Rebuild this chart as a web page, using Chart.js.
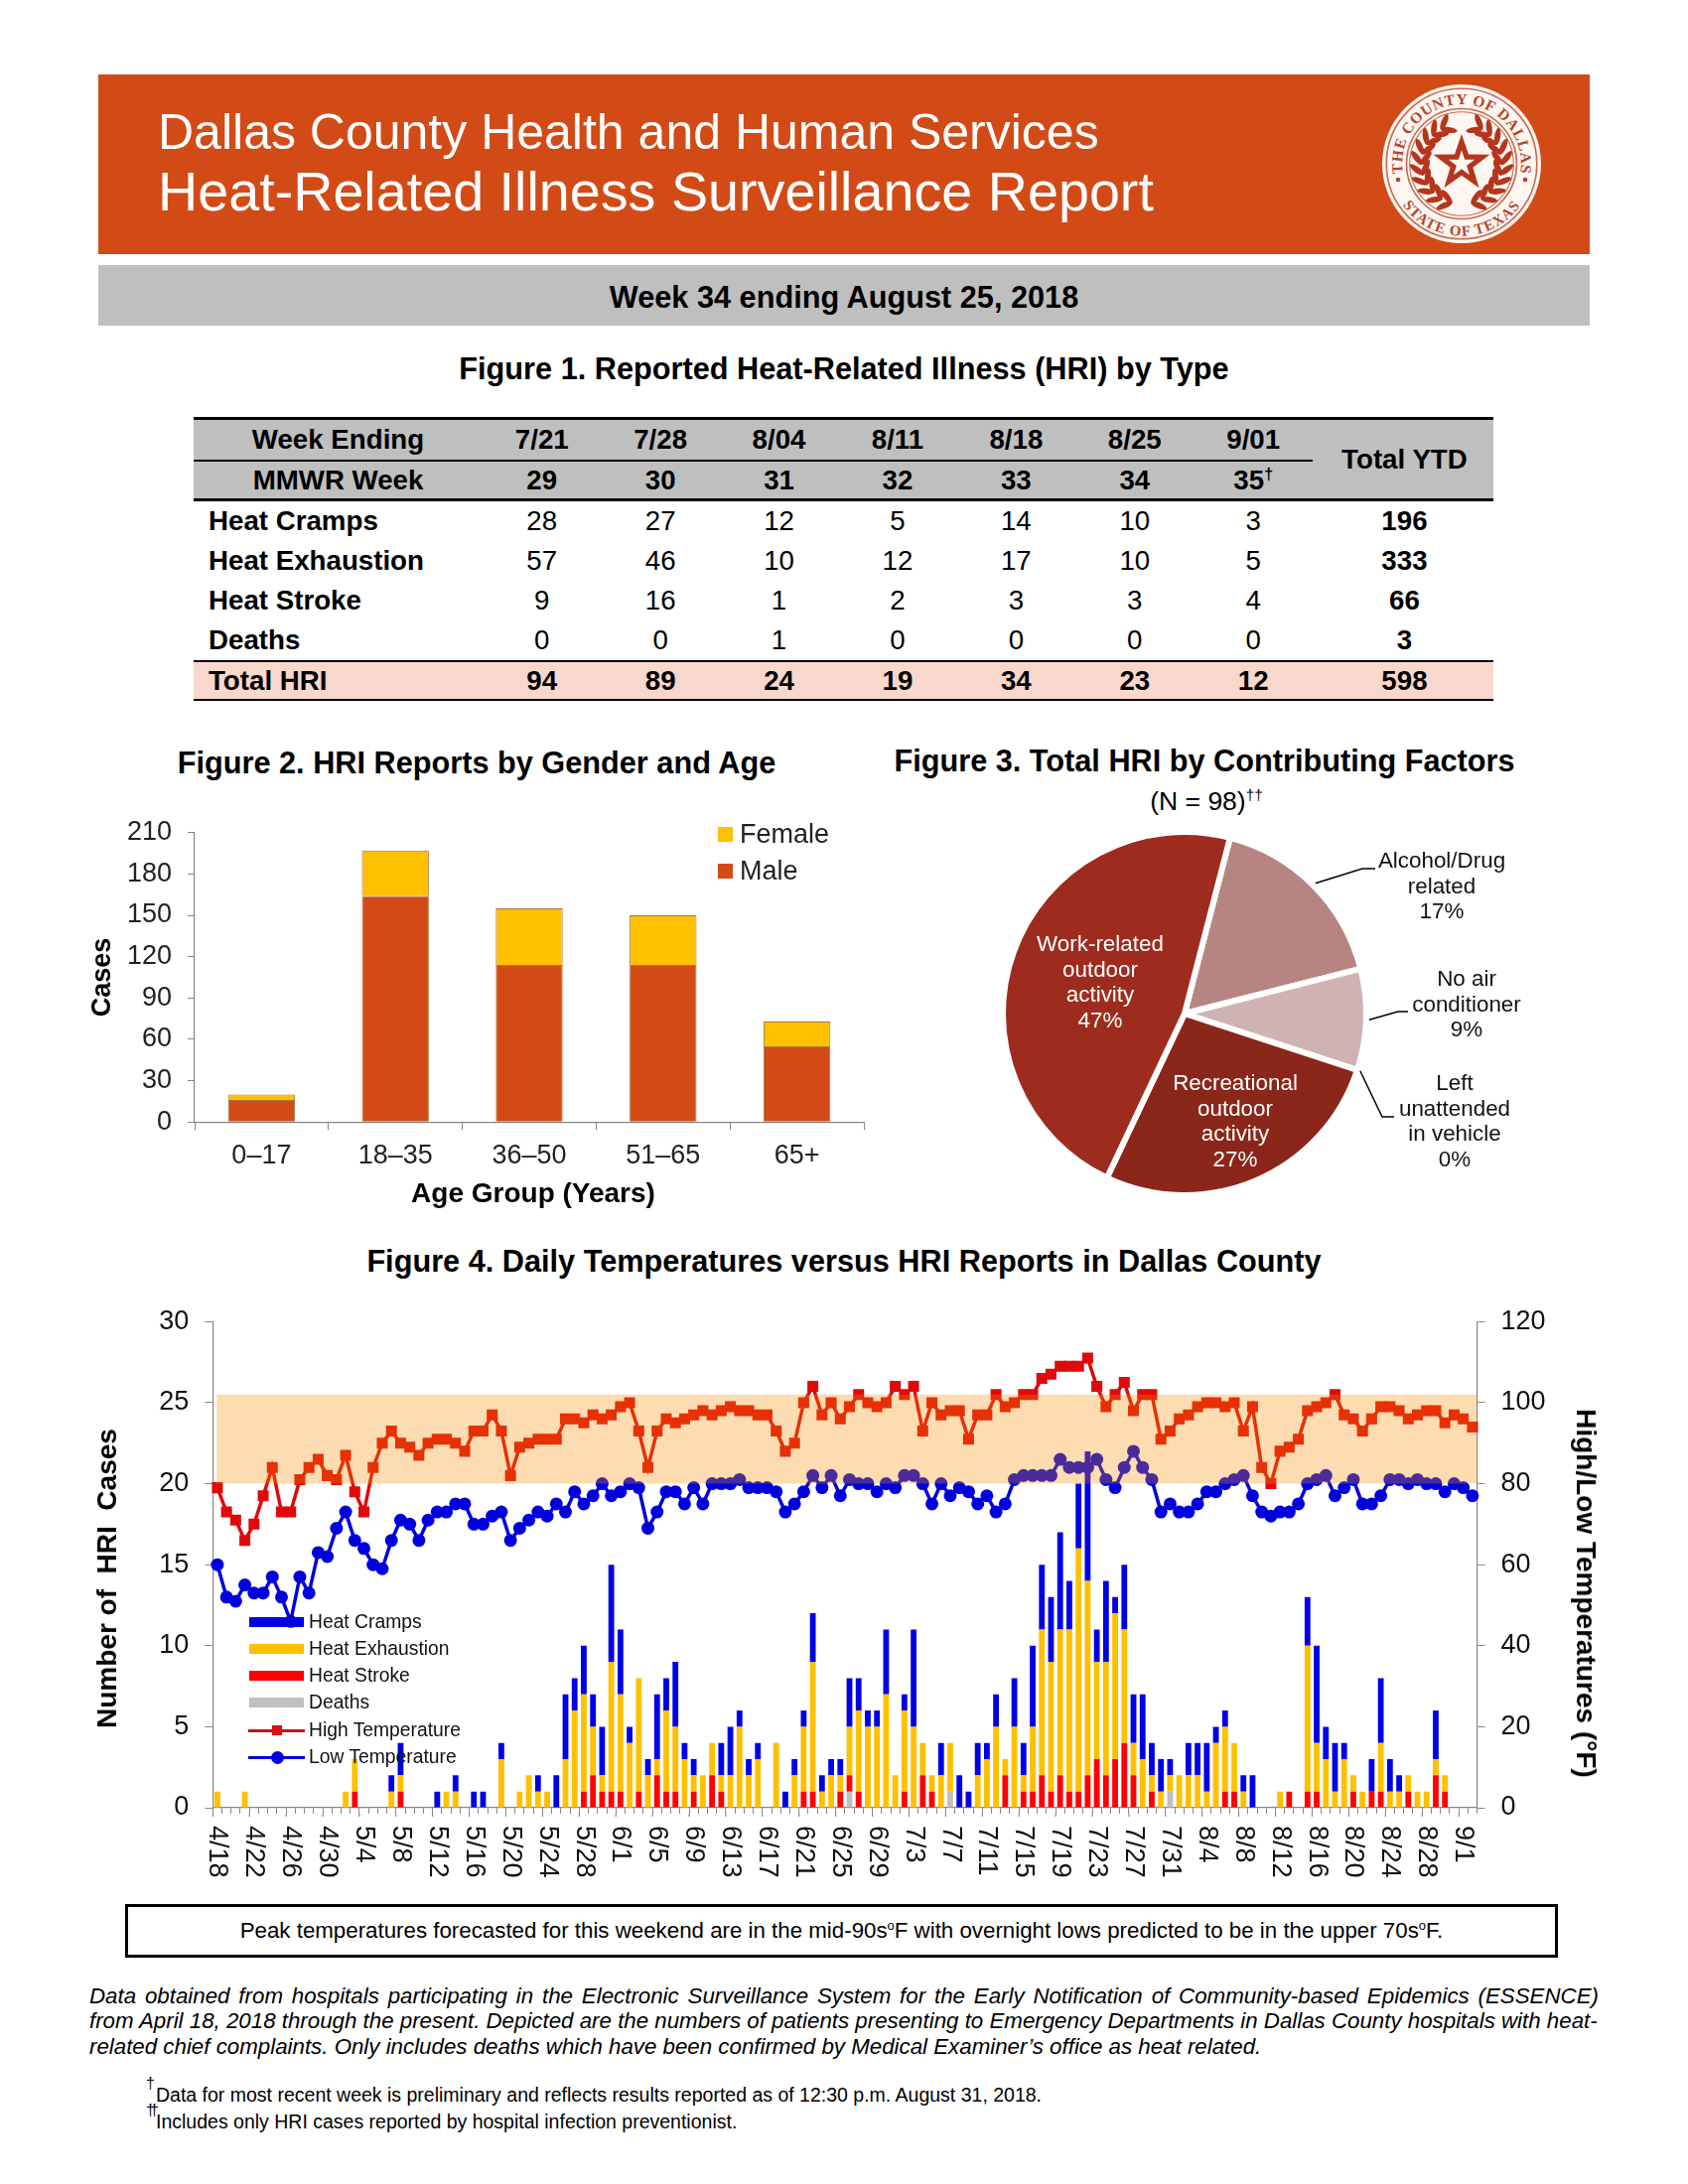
<!DOCTYPE html>
<html>
<head>
<meta charset="utf-8">
<title>Heat-Related Illness Surveillance Report</title>
<script src="https://cdn.jsdelivr.net/npm/chart.js@4/dist/chart.umd.min.js"></script>
<style>
  html, body { margin: 0; padding: 0; background: #fff; }
  body { position: relative; width: 1700px; height: 2200px; overflow: hidden; font-family: "Liberation Sans", Arial, sans-serif; color: #000; }
  .abs { position: absolute; white-space: nowrap; }
  .mid { position: absolute; white-space: nowrap; transform: translate(-50%, -50%); }
  .figtitle { font-weight: bold; font-size: 30.7px; }
  .axtitle { font-weight: bold; font-size: 28px; }
  canvas { position: absolute; }
  #banner { position: absolute; left: 99px; top: 75px; width: 1502px; height: 181px; background: #d24b17; }
  #weekbar { position: absolute; left: 99px; top: 267px; width: 1502px; height: 61px; background: #bfbfbf; }
  #hriTable { position: absolute; left: 195px; top: 420px; width: 1309px; border-collapse: collapse; table-layout: fixed; font-size: 27.7px; }
  #hriTable td { text-align: center; padding: 0; height: 40px; line-height: 28px; }
  #hriTable .name { text-align: left; padding-left: 15px; font-weight: bold; }
  #hriTable .hdr { background: #bfbfbf; font-weight: bold; }
  #hriTable .hdr.name { text-align: center; padding-left: 0; }
  #hriTable .b { font-weight: bold; padding-left: 3px; }
  #hriTable .totalrow td { background: #f8d7cc; font-weight: bold; border-top: 2.5px solid #000; border-bottom: 2.5px solid #000; height: 37px; }
  sup { font-size: 58%; line-height: 0; }
  #notebox { position: absolute; left: 126px; top: 1918px; width: 1437px; height: 48px; border: 3px solid #000; text-align: center; font-size: 22.3px; line-height: 48px; }
  .note { font-size: 22.3px; font-style: italic; line-height: 25px; left: 90px; }
  .foot { font-size: 19.5px; line-height: 24px; left: 157px; }
</style>
</head>
<body>

<div id="banner"></div>
<div class="abs" style="left:159px;top:104px;font-size:50px;line-height:58px;color:#fff">Dallas County Health and Human Services</div>
<div class="abs" style="left:159px;top:162px;font-size:55.7px;line-height:62px;color:#fff">Heat-Related Illness Surveillance Report</div>

<svg class="abs" style="left:1387px;top:80px" width="170" height="170" viewBox="-85 -85 170 170">
  <defs>
    <path id="arcTop" d="M -54 14.5 A 56 56 0 1 1 54 14.5"></path>
    <path id="arcBottom" d="M -58 35.5 A 68 68 0 0 0 58 35.5"></path>
  </defs>
  <g transform="scale(1.067)">
    <circle r="75" fill="#fdf6f1"></circle>
    <circle r="71" fill="none" stroke="#c9694f" stroke-width="1.5"></circle>
    <circle r="52" fill="none" stroke="#c9694f" stroke-width="1.5"></circle>
    <circle r="49" fill="none" stroke="#c9694f" stroke-width="1"></circle>
    <text font-family="Liberation Serif, serif" font-weight="bold" font-size="14.5" fill="#b5452c" letter-spacing="0.6">
      <textPath href="#arcTop" startOffset="50%" text-anchor="middle">THE COUNTY OF DALLAS</textPath>
    </text>
    <text font-family="Liberation Serif, serif" font-weight="bold" font-size="14" fill="#b5452c" letter-spacing="1">
      <textPath href="#arcBottom" startOffset="50%" text-anchor="middle">STATE OF TEXAS</textPath>
    </text>
    <circle cx="-60" cy="15" r="2.2" fill="#b5452c"></circle>
    <circle cx="60" cy="15" r="2.2" fill="#b5452c"></circle>
    <polygon fill="#b5351d" points="0,-28 6.6,-9 26.6,-8.7 10.7,3.5 16.5,22.7 0,11 -16.5,22.7 -10.7,3.5 -26.6,-8.7 -6.6,-9"></polygon>
    <polygon fill="#fdf6f1" points="0,-13 3,-4 12.4,-4 4.8,1.6 7.6,10.6 0,5 -7.6,10.6 -4.8,1.6 -12.4,-4 -3,-4"></polygon>
    <g id="wreath"></g>
  </g>
</svg>

<div id="weekbar"></div>
<div class="mid" style="left:850px;top:300px;font-weight:bold;font-size:30.7px">Week 34 ending August 25, 2018</div>
<div class="mid figtitle" style="left:850px;top:372px">Figure 1. Reported Heat-Related Illness (HRI) by Type</div>

<table id="hriTable"></table>

<div class="mid figtitle" style="left:480px;top:769px">Figure 2. HRI Reports by Gender and Age</div>
<canvas id="genderChart" width="820" height="380" style="left:80px;top:820px"></canvas>
<div class="mid axtitle" style="left:537px;top:1202px">Age Group (Years)</div>
<div id="genderLegend"></div>

<div class="mid figtitle" style="left:1213px;top:767px">Figure 3. Total HRI by Contributing Factors</div>
<div class="mid" style="left:1215px;top:807px;font-size:26.5px">(N = 98)<sup>††</sup></div>
<canvas id="factorChart" width="600" height="382" style="left:1000px;top:830px"></canvas>

<div class="mid figtitle" style="left:850px;top:1271px">Figure 4. Daily Temperatures versus HRI Reports in Dallas County</div>
<canvas id="dailyChart" width="1513" height="590" style="left:88px;top:1310px"></canvas>
<div class="mid axtitle" style="left:108px;top:1590px;transform:translate(-50%,-50%) rotate(-90deg)">Number of&nbsp; HRI&nbsp; Cases</div>
<div class="mid axtitle" style="left:1597px;top:1605px;transform:translate(-50%,-50%) rotate(90deg)">High/Low Temperatures (°F)</div>
<div id="dailyLegend"></div>

<div id="notebox">Peak temperatures forecasted for this weekend are in the mid-90s<sup>o</sup>F with overnight lows predicted to be in the upper 70s<sup>o</sup>F.</div>

<div class="abs note" style="top:1998px;width:1520px;text-align:justify;text-align-last:justify;white-space:normal">Data obtained from hospitals participating in the Electronic Surveillance System for the Early Notification of Community-based Epidemics (ESSENCE)</div>
<div class="abs note" style="top:2023px">from April 18, 2018 through the present. Depicted are the numbers of patients presenting to Emergency Departments in Dallas County hospitals with heat-</div>
<div class="abs note" style="top:2049px">related chief complaints. Only includes deaths which have been confirmed by Medical Examiner’s office as heat related.</div>

<div class="abs" style="left:147px;top:2090px;font-size:16px;line-height:18px">†</div>
<div class="abs foot" style="top:2098px">Data for most recent week is preliminary and reflects results reported as of 12:30 p.m. August 31, 2018.</div>
<div class="abs" style="left:147px;top:2117px;font-size:16px;line-height:18px;letter-spacing:-5px">††</div>
<div class="abs foot" style="top:2125px">Includes only HRI cases reported by hospital infection preventionist.</div>

<script>
// Figure 1 table
const weekEnding = ["7/21", "7/28", "8/04", "8/11", "8/18", "8/25", "9/01"];
const mmwrWeek = ["29", "30", "31", "32", "33", "34", "35"];
const cramps = [28, 27, 12, 5, 14, 10, 3];
const exhaustion = [57, 46, 10, 12, 17, 10, 5];
const stroke = [9, 16, 1, 2, 3, 3, 4];
const deaths = [0, 0, 1, 0, 0, 0, 0];
const totalHri = [94, 89, 24, 19, 34, 23, 12];
const totalYtd = { cramps: 196, exhaustion: 333, stroke: 66, deaths: 3, total: 598 };

// Figure 2 bars
const ageGroups = ["0–17", "18–35", "36–50", "51–65", "65+"];
const maleCases = [16, 164, 114, 114, 55];
const femaleCases = [4, 33, 41, 36, 18];

// Figure 3 pie
const factorNames = [["Alcohol/Drug", "related"], ["No air", "conditioner"], ["Left", "unattended", "in vehicle"], ["Recreational", "outdoor", "activity"], ["Work-related", "outdoor", "activity"]];
const factorPercent = [17, 9, 0, 27, 47];

// Figure 4, one entry per day from 4/18 to 9/2
const days = [
  "4/18","4/19","4/20","4/21","4/22","4/23","4/24","4/25","4/26","4/27","4/28","4/29","4/30",
  "5/1","5/2","5/3","5/4","5/5","5/6","5/7","5/8","5/9","5/10","5/11","5/12","5/13","5/14","5/15","5/16","5/17","5/18","5/19","5/20","5/21","5/22","5/23","5/24","5/25","5/26","5/27","5/28","5/29","5/30","5/31",
  "6/1","6/2","6/3","6/4","6/5","6/6","6/7","6/8","6/9","6/10","6/11","6/12","6/13","6/14","6/15","6/16","6/17","6/18","6/19","6/20","6/21","6/22","6/23","6/24","6/25","6/26","6/27","6/28","6/29","6/30",
  "7/1","7/2","7/3","7/4","7/5","7/6","7/7","7/8","7/9","7/10","7/11","7/12","7/13","7/14","7/15","7/16","7/17","7/18","7/19","7/20","7/21","7/22","7/23","7/24","7/25","7/26","7/27","7/28","7/29","7/30","7/31",
  "8/1","8/2","8/3","8/4","8/5","8/6","8/7","8/8","8/9","8/10","8/11","8/12","8/13","8/14","8/15","8/16","8/17","8/18","8/19","8/20","8/21","8/22","8/23","8/24","8/25","8/26","8/27","8/28","8/29","8/30","8/31",
  "9/1","9/2"
];
const dailyCramps = [
  0,0,0,0,0,0,0,0,0,0, 0,0,0,0,0,0,0,0,0,1, 2,0,0,0,1,0,1,0,1,1, 0,1,0,0,0,1,0,2,4,2,
  3,2,3,6,4,1,0,1,4,2, 4,1,1,0,0,2,3,1,1,1, 0,0,1,1,1,3,1,1,1,3, 2,1,1,4,0,1,6,0,0,2,
  0,2,1,2,1,2,0,3,2,5, 4,4,6,3,4,8,2,5,1,4, 3,4,2,2,1,0,2,2,3,1, 1,0,1,2,0,0,0,0,0,3,
  6,2,3,1,0,0,2,4,2,1, 0,0,0,3,0,0,0,0
];
const dailyExhaustion = [
  1,0,0,1,0,0,0,0,0,0, 0,0,0,0,1,2,0,0,0,1, 1,0,0,0,0,1,1,0,0,0, 0,3,0,1,2,1,1,0,3,6,
  6,3,1,8,6,4,7,2,1,5, 4,3,1,2,2,1,2,5,2,3, 0,4,0,2,4,8,1,2,1,3, 5,5,5,7,2,5,5,2,1,2,
  3,0,0,2,3,5,1,5,1,4, 9,8,9,10,15,12,6,7,9,7, 2,3,1,1,1,2,2,2,1,4, 4,3,1,0,0,0,1,0,0,9,
  3,3,1,3,1,1,0,3,1,1, 1,1,1,1,1,0,0,0
];
const dailyStroke = [
  0,0,0,0,0,0,0,0,0,0, 0,0,0,0,0,1,0,0,0,0, 1,0,0,0,0,0,0,0,0,0, 0,0,0,0,0,0,0,0,0,0,
  1,2,1,1,1,0,1,0,2,1, 1,0,1,0,2,1,0,0,0,0, 0,0,0,0,1,1,0,0,1,1, 1,0,0,0,0,1,0,2,1,0,
  0,0,0,0,0,0,2,0,1,1, 2,1,2,1,1,2,3,2,3,4, 2,0,1,0,0,0,0,0,0,0, 1,1,0,0,0,0,0,1,0,1,
  1,0,0,0,1,0,1,1,0,0, 1,0,0,2,1,0,0,0
];
const dailyDeaths = [
  0,0,0,0,0,0,0,0,0,0, 0,0,0,0,0,0,0,0,0,0, 0,0,0,0,0,0,0,0,0,0, 0,0,0,0,0,0,0,0,0,0,
  0,0,0,0,0,0,0,0,0,0, 0,0,0,0,0,0,0,0,0,0, 0,0,0,0,0,0,0,0,0,1, 0,0,0,0,0,0,0,0,0,0,
  1,0,0,0,0,0,0,0,0,0, 0,0,0,0,0,0,0,0,0,0, 0,0,0,0,1,0,0,0,0,0, 0,0,0,0,0,0,0,0,0,0,
  0,0,0,0,0,0,0,0,0,0, 0,0,0,0,0,0,0,0
];
const highTemp = [
  79,73,71,66,70,77,84,73,73,81, 84,86,82,81,87,78,73,84,90,93, 90,89,87,90,91,91,90,88,93,93, 97,93,82,89,90,91,91,91,96,96,
  95,97,96,97,99,100,93,84,93,96, 95,96,97,98,97,98,99,98,98,97, 97,93,88,90,100,104,97,100,96,99, 102,100,99,100,104,102,104,93,100,97,
  98,98,91,97,97,102,99,100,102,102, 106,107,109,109,109,111,104,99,102,105, 98,102,102,91,93,96,97,99,100,100, 99,100,93,99,84,80,88,89,91,98,
  99,100,102,97,96,93,96,99,99,98, 96,97,98,98,95,97,96,94
];
const lowTemp = [
  60,52,51,55,53,53,57,52,46,57, 53,63,62,69,73,66,64,60,59,66, 71,70,66,71,73,73,75,75,70,70, 72,73,66,69,71,73,72,75,73,78,
  75,77,80,77,78,80,79,69,73,78, 78,75,79,75,80,80,80,81,79,79, 79,78,73,75,78,82,79,82,77,81, 80,80,78,80,79,82,82,80,75,80,
  77,79,78,75,77,73,75,81,82,82, 82,82,86,84,84,84,86,81,79,84, 88,84,81,73,75,73,73,75,78,78, 80,81,82,77,73,72,73,73,75,80,
  81,82,77,79,81,75,75,77,81,81, 80,81,80,80,78,80,79,77
];
const bandLow = 80;
const bandHigh = 102;

Chart.defaults.font.family = '"Liberation Sans", Arial, sans-serif';
Chart.defaults.color = "#111";
Chart.defaults.animation = false;
Chart.defaults.responsive = false;
Chart.defaults.devicePixelRatio = 1;

const AXIS_GRAY = "#868686";

// Pin an axis to a fixed thickness so the plot area lands where the page wants it
function pinAxis(prop, size) {
  return s => {
    s[prop] = size;
    s.paddingTop = s.paddingBottom = s.paddingLeft = s.paddingRight = 0;
  };
}

function buildTable() {
  const cells = (arr, cls) => arr.map(v => `<td class="${cls || ""}">${v}</td>`).join("");
  const row = (name, arr, ytd) => `<tr><td class="name">${name}</td>${cells(arr)}<td class="b">${ytd}</td></tr>`;
  const mmwr = mmwrWeek.map((v, i) => i === 6 ? v + "<sup>†</sup>" : v);
  document.getElementById("hriTable").innerHTML = `
    <colgroup><col style="width:291px">${weekEnding.map(() => '<col style="width:119.4px">').join("")}<col style="width:182px"></colgroup>
    <tr style="border-top:3px solid #000"><td class="name hdr" style="height:40px">Week Ending</td>${weekEnding.map(v => `<td class="hdr" style="height:40px;border-bottom:2.5px solid #000">${v}</td>`).join("")}<td class="hdr b" rowspan="2">Total YTD</td></tr>
    <tr style="border-bottom:3px solid #000"><td class="name hdr" style="border-top:2.5px solid #000;height:37px">MMWR Week</td>${mmwr.map(v => `<td class="hdr" style="height:37px">${v}</td>`).join("")}</tr>
    ${row("Heat Cramps", cramps, totalYtd.cramps)}
    ${row("Heat Exhaustion", exhaustion, totalYtd.exhaustion)}
    ${row("Heat Stroke", stroke, totalYtd.stroke)}
    ${row("Deaths", deaths, totalYtd.deaths)}
    <tr class="totalrow"><td class="name">Total HRI</td>${cells(totalHri)}<td class="b">${totalYtd.total}</td></tr>`;
}

function buildSealWreath() {
  // Laurel branch up the left side, mirrored for the right
  let leaves = "";
  for (let t = 15; t <= 150; t += 15) {
    const rad = t * Math.PI / 180;
    const x = -38 * Math.sin(rad);
    const y = 38 * Math.cos(rad);
    const dir = Math.atan2(-Math.sin(rad), -Math.cos(rad)) * 180 / Math.PI;
    [38, -38].forEach(off => {
      const ang = dir + off;
      const cx = x + 7 * Math.cos(ang * Math.PI / 180);
      const cy = y + 7 * Math.sin(ang * Math.PI / 180);
      leaves += `<ellipse cx="${cx}" cy="${cy}" rx="8" ry="2.8" fill="#b5351d" transform="rotate(${ang} ${cx} ${cy})"></ellipse>`;
    });
  }
  document.getElementById("wreath").innerHTML = `<g>${leaves}</g><g transform="scale(-1,1)">${leaves}</g>`;
}

function buildGenderChart() {
  const swatches = [["Female", "#ffc000", 833], ["Male", "#d24b17", 870]];
  document.getElementById("genderLegend").innerHTML = swatches.map(s =>
    `<div class="abs" style="left:723px;top:${s[2]}px;width:15px;height:15px;background:${s[1]}"></div>
     <div class="abs" style="left:745px;top:${s[2] - 9}px;font-size:27px;line-height:32px;color:#222">${s[0]}</div>`).join("");

  new Chart(document.getElementById("genderChart"), {
    type: "bar",
    data: {
      labels: ageGroups,
      datasets: [
        { label: "Male", data: maleCases, backgroundColor: "#d24b17", borderColor: "#a8763f", borderWidth: 1, barPercentage: 0.5, categoryPercentage: 1 },
        { label: "Female", data: femaleCases, backgroundColor: "#ffc000", borderColor: "#a8763f", borderWidth: 1, barPercentage: 0.5, categoryPercentage: 1 }
      ]
    },
    options: {
      layout: { autoPadding: false, padding: { top: 18.7, right: 30 } },
      plugins: { legend: { display: false }, tooltip: { enabled: false } },
      scales: {
        x: {
          stacked: true,
          afterFit: pinAxis("height", 69.7),
          border: { color: AXIS_GRAY, width: 1.2 },
          grid: { color: AXIS_GRAY, drawOnChartArea: false, tickLength: 8 },
          ticks: { font: { size: 27 }, padding: 10, color: "#222" }
        },
        y: {
          stacked: true,
          min: 0,
          max: 210,
          afterFit: pinAxis("width", 116),
          border: { color: AXIS_GRAY, width: 1.2 },
          grid: { color: AXIS_GRAY, drawOnChartArea: false, tickLength: 7 },
          ticks: { stepSize: 30, font: { size: 27 }, padding: 16, color: "#222" },
          title: { display: true, text: "Cases", font: { size: 27, weight: "bold" }, color: "#000", padding: { top: 7, bottom: 0 } }
        }
      }
    }
  });
}

function buildFactorChart() {
  // Page positions of each label block and its leader line, same order as factorNames
  const originX = 1000, originY = 830;
  const spots = [
    { x: 1452, y: 868, color: "#111", lead: [[1372, 875], [1385, 875]] },
    { x: 1477, y: 987, color: "#111", lead: [[1408, 1019], [1418, 1019]] },
    { x: 1465, y: 1092, color: "#111", lead: [[1392, 1125], [1404, 1125]] },
    { x: 1244, y: 1092, color: "#fff" },
    { x: 1108, y: 952, color: "#fff" }
  ];
  const pieLabels = {
    id: "pieLabels",
    afterDraw(chart) {
      const ctx = chart.ctx;
      const arcs = chart.getDatasetMeta(0).data;
      ctx.save();
      ctx.font = "22.4px " + Chart.defaults.font.family;
      ctx.textAlign = "center";
      ctx.textBaseline = "middle";
      spots.forEach((spot, i) => {
        const arc = arcs[i];
        const lines = factorNames[i].concat(factorPercent[i] + "%");
        ctx.fillStyle = spot.color;
        lines.forEach((line, k) => ctx.fillText(line, spot.x - originX, spot.y - originY + k * 25.6));
        if (spot.lead) {
          // leader line leaves the slice from the middle of its outer edge
          const mid = (arc.startAngle + arc.endAngle) / 2;
          ctx.beginPath();
          ctx.moveTo(arc.x + Math.cos(mid) * (arc.outerRadius + 3), arc.y + Math.sin(mid) * (arc.outerRadius + 3));
          spot.lead.forEach(p => ctx.lineTo(p[0] - originX, p[1] - originY));
          ctx.strokeStyle = "#000";
          ctx.lineWidth = 1.5;
          ctx.stroke();
        }
      });
      ctx.restore();
    }
  };

  new Chart(document.getElementById("factorChart"), {
    type: "pie",
    data: {
      labels: factorNames.map(n => n.join(" ")),
      datasets: [{
        data: factorPercent,
        backgroundColor: ["#b78581", "#cfb3b2", "#cfb3b2", "#8b261a", "#9e2c1e"],
        borderColor: "#fff",
        borderWidth: 6
      }]
    },
    options: {
      rotation: 14.5,
      radius: 183,
      layout: { padding: { right: 214 } },
      plugins: { legend: { display: false }, tooltip: { enabled: false } }
    },
    plugins: [pieLabels]
  });
}

function buildDailyChart() {
  const legendBars = [["Heat Cramps", "#0000e6", 1634], ["Heat Exhaustion", "#ffc000", 1661], ["Heat Stroke", "#ff0000", 1688], ["Deaths", "#bfbfbf", 1715]];
  let legendHtml = legendBars.map(s =>
    `<div class="abs" style="left:251px;top:${s[2] - 5}px;width:55px;height:10px;background:${s[1]}"></div>
     <div class="abs" style="left:311px;top:${s[2] - 12}px;font-size:19.3px;line-height:24px;color:#111">${s[0]}</div>`).join("");
  legendHtml += `<div class="abs" style="left:250px;top:1741.5px;width:57px;height:3px;background:#c01515"></div>
    <div class="abs" style="left:274px;top:1738px;width:10px;height:10px;background:#d81010"></div>
    <div class="abs" style="left:311px;top:1731px;font-size:19.3px;line-height:24px;color:#111">High Temperature</div>
    <div class="abs" style="left:250px;top:1768.5px;width:57px;height:3px;background:#0000dd"></div>
    <div class="abs" style="left:272.5px;top:1763.5px;width:13px;height:13px;border-radius:50%;background:#0000dd"></div>
    <div class="abs" style="left:311px;top:1758px;font-size:19.3px;line-height:24px;color:#111">Low Temperature</div>`;
  document.getElementById("dailyLegend").innerHTML = legendHtml;

  // Band goes over the marks, it tints whatever it crosses
  const heatBand = {
    id: "heatBand",
    afterDatasetsDraw(chart) {
      const ctx = chart.ctx;
      const yT = chart.scales.yT;
      const left = chart.scales.x.getPixelForValue(0) - 0.6;
      ctx.save();
      ctx.fillStyle = "rgba(250, 140, 0, 0.3)";
      ctx.fillRect(left, yT.getPixelForValue(bandHigh), chart.chartArea.right - left, yT.getPixelForValue(bandLow) - yT.getPixelForValue(bandHigh));
      ctx.restore();
    }
  };
  // Labels read downwards, which the category scale does not do by itself
  const dayTicks = {
    id: "dayTicks",
    afterDraw(chart) {
      const ctx = chart.ctx;
      const x = chart.scales.x;
      const half = (x.getPixelForValue(1) - x.getPixelForValue(0)) / 2;
      ctx.save();
      ctx.font = "27px " + Chart.defaults.font.family;
      ctx.fillStyle = "#111";
      ctx.strokeStyle = AXIS_GRAY;
      ctx.lineWidth = 1.2;
      ctx.textAlign = "left";
      ctx.textBaseline = "middle";
      days.forEach((day, i) => {
        if (i % 4 !== 0) return;
        const px = x.getPixelForValue(i);
        // every fourth tick runs a little longer
        ctx.beginPath();
        ctx.moveTo(px - half, x.top + 6);
        ctx.lineTo(px - half, x.top + 9);
        ctx.stroke();
        ctx.save();
        ctx.translate(px, x.top + 18);
        ctx.rotate(Math.PI / 2);
        ctx.fillText(day, 0, 0);
        ctx.restore();
      });
      ctx.restore();
    }
  };

  const barSet = (label, data, color) => ({ type: "bar", label, data, backgroundColor: color, yAxisID: "y", stack: "hri", order: 3, barPercentage: 0.63, categoryPercentage: 1 });

  new Chart(document.getElementById("dailyChart"), {
    data: {
      labels: days,
      datasets: [
        barSet("Deaths", dailyDeaths, "#bfbfbf"),
        barSet("Heat Stroke", dailyStroke, "#ff0000"),
        barSet("Heat Exhaustion", dailyExhaustion, "#ffc000"),
        barSet("Heat Cramps", dailyCramps, "#0000e6"),
        { type: "line", label: "High Temperature", data: highTemp, yAxisID: "yT", order: 1, borderColor: "#e00a0a", borderWidth: 3.5, pointStyle: "rect", pointRadius: 7.8, pointBackgroundColor: "#e00a0a", pointBorderWidth: 0, tension: 0 },
        { type: "line", label: "Low Temperature", data: lowTemp, yAxisID: "yT", order: 2, borderColor: "#0000dd", borderWidth: 3.5, pointStyle: "circle", pointRadius: 6.5, pointBackgroundColor: "#0000dd", pointBorderWidth: 0, tension: 0 }
      ]
    },
    options: {
      layout: { autoPadding: false, padding: { top: 21.3 } },
      plugins: { legend: { display: false }, tooltip: { enabled: false } },
      scales: {
        x: {
          afterFit: pinAxis("height", 79),
          offset: true,
          border: { color: AXIS_GRAY, width: 1.2 },
          grid: { color: AXIS_GRAY, drawOnChartArea: false, offset: true, tickLength: 6 },
          ticks: { display: false }
        },
        y: {
          stacked: true,
          position: "left",
          min: 0,
          max: 30,
          afterFit: pinAxis("width", 126.3),
          border: { color: AXIS_GRAY, width: 1.2 },
          grid: { color: AXIS_GRAY, drawOnChartArea: false, tickLength: 8 },
          ticks: { stepSize: 5, font: { size: 27 }, padding: 16, color: "#111" }
        },
        yT: {
          position: "right",
          min: 0,
          max: 120,
          afterFit: pinAxis("width", 113.5),
          border: { color: AXIS_GRAY, width: 1.2 },
          grid: { color: AXIS_GRAY, drawOnChartArea: false, tickLength: 8 },
          ticks: { stepSize: 20, font: { size: 27 }, padding: 16, color: "#111" }
        }
      }
    },
    plugins: [heatBand, dayTicks]
  });
}

buildTable();
buildSealWreath();
buildGenderChart();
buildFactorChart();
buildDailyChart();
</script>
</body>
</html>
